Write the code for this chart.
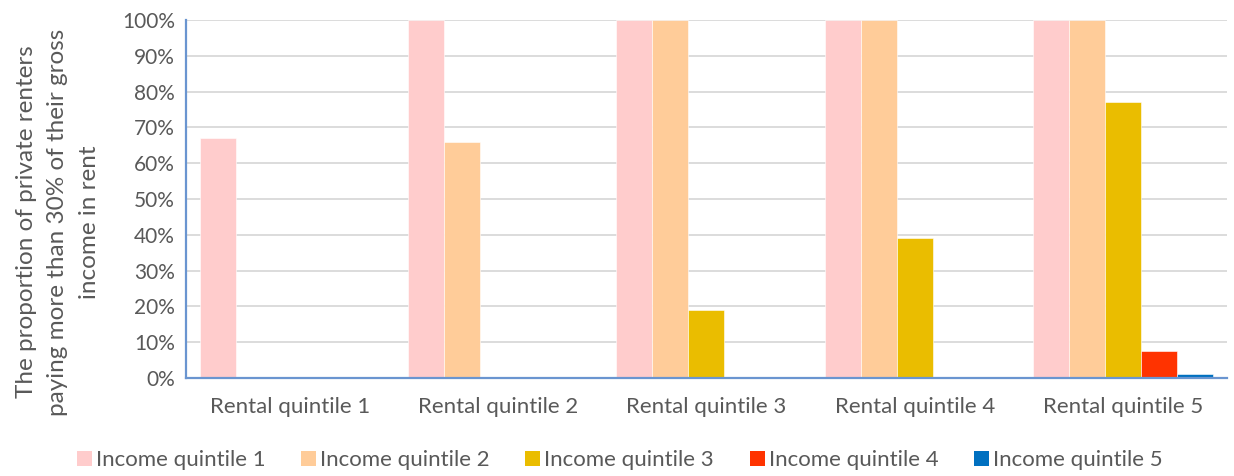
import pandas as pd, matplotlib.pyplot as plt, seaborn as sns
from matplotlib.patches import Patch
from matplotlib.ticker import PercentFormatter

# Les données
rental = ["Rental quintile 1", "Rental quintile 2", "Rental quintile 3", "Rental quintile 4", "Rental quintile 5"]
income = ["Income quintile 1", "Income quintile 2", "Income quintile 3", "Income quintile 4", "Income quintile 5"]
iq1 = [67, 100, 100, 100, 100]
iq2 = [0, 66, 100, 100, 100]
iq3 = [0, 0, 19, 39, 77]
iq4 = [0, 0, 0, 0, 7.6]
iq5 = [0, 0, 0, 0, 1.1]
couleurs = ["#FFCCCC", "#FFCC99", "#EABD00", "#FF3300", "#0070C0"]

rows = []
for nom, vals in zip(income, [iq1, iq2, iq3, iq4, iq5]):
    for r, v in zip(rental, vals):
        rows.append({"rental": r, "income": nom, "value": v})
df = pd.DataFrame(rows)

sns.set_style("white")
plt.rcParams['font.family'] = ['Lato', 'DejaVu Sans']
gris = "#595959"

fig = plt.figure(figsize=(12.34, 4.76), dpi=100)
ax = fig.add_axes([0.1507, 0.2059, 0.8436, 0.7521])
sns.barplot(data=df, x="rental", y="value", hue="income", palette=couleurs,
            width=0.865, saturation=1, edgecolor="white", linewidth=0.4,
            legend=False, ax=ax)

ax.set_ylim(0, 100)
ax.set_xlim(-0.5, 4.5)
ax.set_yticks(range(0, 101, 10))
ax.yaxis.set_major_formatter(PercentFormatter(decimals=0))
ax.grid(axis="y", color="#D9D9D9", linewidth=1.3)
ax.set_axisbelow(True)
for s in ["top", "right"]:
    ax.spines[s].set_visible(False)
for s in ["left", "bottom"]:
    ax.spines[s].set_color("#6A95D0")
    ax.spines[s].set_linewidth(1.6)
ax.tick_params(axis="y", length=0, labelsize=15, colors=gris, pad=8)
ax.tick_params(axis="x", length=0, labelsize=16, colors=gris, pad=14)
ax.set_xlabel("")
ax.set_ylabel("The proportion of private renters\npaying more than 30% of their gross\nincome in rent",
              fontsize=17.5, color=gris, linespacing=1.6)
ax.yaxis.set_label_coords(-0.083, 0.436)

handles = [Patch(facecolor=c, edgecolor="none") for c in couleurs]
fig.legend(handles, income, loc="lower left", bbox_to_anchor=(0.046, -0.03), ncol=5,
           frameon=False, fontsize=16, labelcolor=gris, handlelength=0.68, handleheight=0.68,
           handletextpad=0.18, columnspacing=1.6)

plt.savefig("out.png", dpi=100)
